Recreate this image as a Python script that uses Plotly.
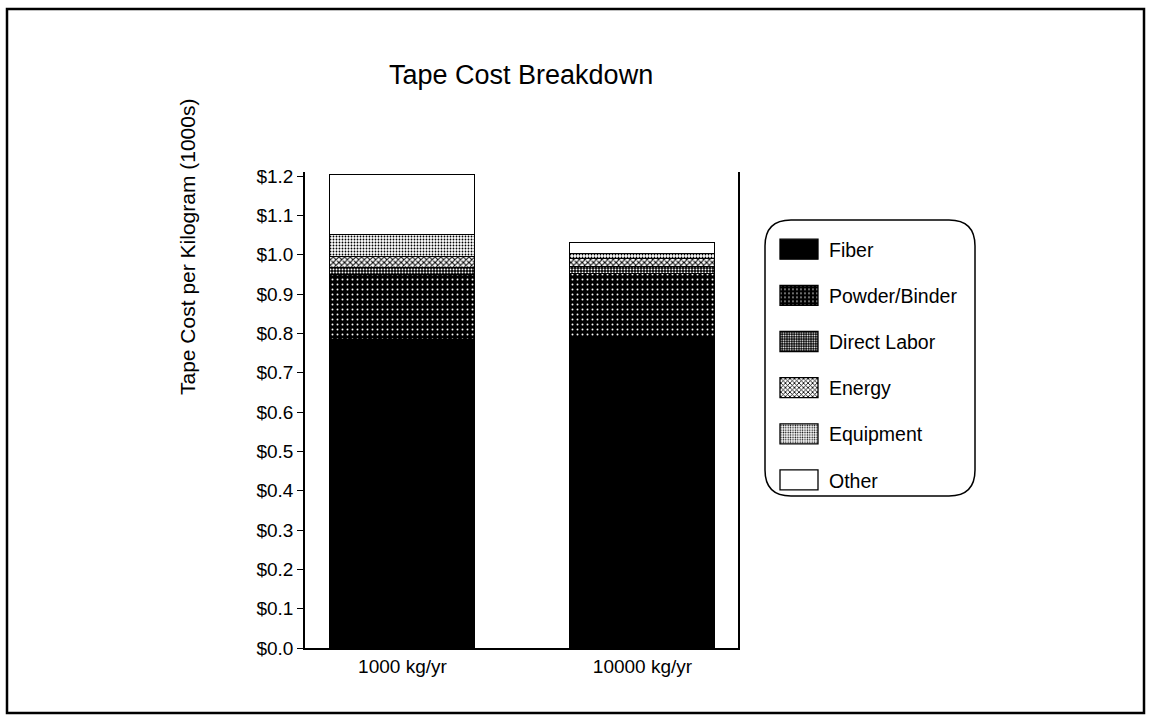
import plotly.graph_objects as go

# ---- data ----
categories = ["1000 kg/yr", "10000 kg/yr"]
series_names = ["Fiber", "Powder/Binder", "Direct Labor", "Energy", "Equipment", "Other"]
fiber = [0.783, 0.788]
powder_binder = [0.165, 0.163]
direct_labor = [0.018, 0.018]
energy = [0.028, 0.020]
equipment = [0.056, 0.013]
other = [0.153, 0.028]
tick_vals = [0.0, 0.1, 0.2, 0.3, 0.4, 0.5, 0.6, 0.7, 0.8, 0.9, 1.0, 1.1, 1.2]
tick_text = ["$0.0", "$0.1", "$0.2", "$0.3", "$0.4", "$0.5", "$0.6", "$0.7", "$0.8", "$0.9", "$1.0", "$1.1", "$1.2"]

values = [fiber, powder_binder, direct_labor, energy, equipment, other]

styles = [
    dict(color="black", pattern=dict(shape="")),
    dict(color="black", pattern=dict(shape=".", fgcolor="white", bgcolor="black", size=5, solidity=0.12, fillmode="replace")),
    dict(color="black", pattern=dict(shape=".", fgcolor="white", bgcolor="black", size=3, solidity=0.35, fillmode="replace")),
    dict(color="white", pattern=dict(shape="x", fgcolor="black", bgcolor="white", size=4, solidity=0.45, fillmode="replace")),
    dict(color="white", pattern=dict(shape=".", fgcolor="black", bgcolor="white", size=3, solidity=0.3, fillmode="replace")),
    dict(color="white", pattern=dict(shape="")),
]

FONT = "Liberation Sans, Arial, Helvetica, sans-serif"

fig = go.Figure()
for i, (name, vals, st) in enumerate(zip(series_names, values, styles)):
    fig.add_trace(go.Bar(
        x=categories, y=vals, name=name, width=0.604,
        legendgroup=f"g{i}",
        marker=dict(color=st["color"], pattern=st["pattern"],
                    line=dict(color="black", width=1.3)),
        hoverinfo="skip",
    ))

# pixel helpers for paper-coordinate annotations/shapes
L, R, T, B = 305, 738, 172, 648
def px(x):
    return (x - L) / (R - L)
def py(y):
    return (B - y) / (B - T)

shapes = []
# outer frame
shapes.append(dict(type="rect", xref="paper", yref="paper",
                   x0=px(7), x1=px(1144), y0=py(713), y1=py(9),
                   line=dict(color="black", width=2.5), fillcolor="rgba(0,0,0,0)", layer="below"))
# rounded legend box
bx0, bx1, by0, by1, r = 765, 975, 220, 496, 26
path = (f"M {px(bx0 + r)},{py(by0)} L {px(bx1 - r)},{py(by0)} "
        f"Q {px(bx1)},{py(by0)} {px(bx1)},{py(by0 + r)} "
        f"L {px(bx1)},{py(by1 - r)} Q {px(bx1)},{py(by1)} {px(bx1 - r)},{py(by1)} "
        f"L {px(bx0 + r)},{py(by1)} Q {px(bx0)},{py(by1)} {px(bx0)},{py(by1 - r)} "
        f"L {px(bx0)},{py(by0 + r)} Q {px(bx0)},{py(by0)} {px(bx0 + r)},{py(by0)} Z")
shapes.append(dict(type="path", xref="paper", yref="paper", path=path,
                   line=dict(color="black", width=1.5)))

fig.update_layout(
    width=1152, height=728,
    margin=dict(l=L, r=1152 - R, t=T, b=728 - B),
    paper_bgcolor="white", plot_bgcolor="white",
    barmode="stack", bargap=0,
    font=dict(family=FONT, color="black", size=19),
    showlegend=True,
    legend=dict(x=px(769), y=py(230), xanchor="left", yanchor="top",
                traceorder="grouped", tracegroupgap=17.8,
                font=dict(size=19.5, family=FONT), bgcolor="rgba(0,0,0,0)",
                itemwidth=50),
    shapes=shapes,
    annotations=[
        dict(text="Tape Cost Breakdown", xref="paper", yref="paper",
             x=px(521), y=py(75), xanchor="center", yanchor="middle",
             showarrow=False, font=dict(size=27, family=FONT)),
        dict(text="Tape Cost per Kilogram (1000s)", xref="paper", yref="paper",
             x=px(187), y=py(247), xanchor="center", yanchor="middle",
             showarrow=False, textangle=-90,
             font=dict(size=21, family=FONT)),
    ],
)
fig.update_xaxes(type="category", range=[-0.406, 1.398], showline=True, linecolor="black",
                 linewidth=1.5, ticks="", showgrid=False, zeroline=False,
                 tickfont=dict(size=19, family=FONT))
fig.update_yaxes(range=[0, (B - T) / 393.3], tickvals=tick_vals, ticktext=tick_text,
                 showline=True, mirror=True, linecolor="black", linewidth=1.5,
                 ticks="outside", ticklen=6, tickcolor="black", showgrid=False, zeroline=False,
                 tickfont=dict(size=19, family=FONT))

post = """
document.body.style.margin = '0';
document.body.style.overflow = 'hidden';
var gd = document.getElementsByClassName('plotly-graph-div')[0];
function fixLegend(){
  var pts = gd.querySelectorAll('.legend .legendpoints path');
  pts.forEach(function(p){ p.setAttribute('d','M19,10H-19V-10H19Z'); });
}
fixLegend();
gd.on('plotly_afterplot', fixLegend);
"""
fig.write_html("out.html", post_script=post, config={"displayModeBar": False})
